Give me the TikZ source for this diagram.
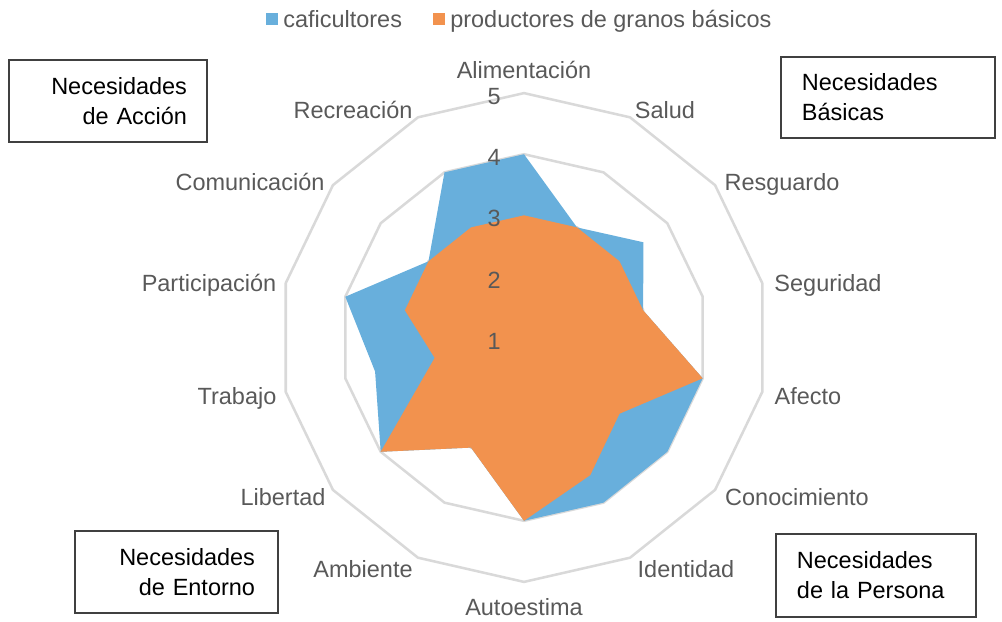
\documentclass[tikz,border=0pt]{standalone}
\usepackage{fontspec}
\setmainfont{Liberation Sans}
\usepackage{tikz}
\usetikzlibrary{positioning}
\definecolor{cafeazul}{HTML}{68AFDC}
\definecolor{granosnar}{HTML}{F2924E}
\definecolor{rejilla}{HTML}{D9D9D9}
\definecolor{gristxt}{HTML}{595959}
\newcommand{\txt}{\fontsize{16.7}{21.3}\selectfont}
\tikzstyle{malla} = [draw=rejilla, line width=1.8pt]
\tikzstyle{cat} = [text=gristxt, font=\txt, inner sep=0pt, anchor=base]
\tikzstyle{escala} = [text=gristxt, font=\txt, inner sep=0pt, anchor=east]
\tikzstyle{marca} = [rectangle, minimum size=0.3cm, inner sep=0pt]
\tikzstyle{grupo} = [rectangle, draw=black!75, line width=0.9pt, font=\txt,
   inner ysep=0pt]

\begin{document}
\begin{tikzpicture}[x=0.025cm, y=-0.025cm]
\useasboundingbox (0,0) rectangle (1002,621);

% leyenda
\node (lcafe) [marca, fill=cafeazul] at (272,18.5) {};
\node (tcafe) [cat, anchor=base west] at (283,27) {caficultores};
\node (lgranos) [marca, fill=granosnar] at (439,18.5) {};
\node (tgranos) [cat, anchor=base west] at (450,27) {productores de granos básicos};

% radar
\begin{scope}[shift={(524,337.5)}]
\foreach \lvl in {1,...,4}
  \draw [malla] (-90:{\lvl*61.1}) \foreach \k in {1,...,13} { -- ({-90+\k*360/14}:{\lvl*61.1}) } -- cycle;

\foreach \v [count=\k from 0] in {4,3,3.5,3,4,4,4,4,3,4,3.5,4,3,4}
  \coordinate (caf\k) at ({-90+\k*360/14}:{(\v-1)*61.1});
\foreach \v [count=\k from 0] in {3,3,3,3,4,3,3.5,4,3,4,2.5,3,3,3}
  \coordinate (gra\k) at ({-90+\k*360/14}:{(\v-1)*61.1});

\fill [cafeazul] (caf0) \foreach \k in {1,...,13} { -- (caf\k) } -- cycle;
\fill [granosnar] (gra0) \foreach \k in {1,...,13} { -- (gra\k) } -- cycle;

\foreach \t in {1,...,5}
  \node (eje\t) [escala] at (-23,{-(\t-1)*61.1+3.5}) {\t};
\end{scope}

% categorias
\node (alim) [cat] at (524,78) {Alimentación};
\node (salud) [cat] at (665,118) {Salud};
\node (resg) [cat] at (782,190) {Resguardo};
\node (segur) [cat] at (828,291) {Seguridad};
\node (afecto) [cat] at (808,404) {Afecto};
\node (conoc) [cat] at (797,505) {Conocimiento};
\node (ident) [cat] at (686,577) {Identidad};
\node (autoe) [cat] at (524,615) {Autoestima};
\node (ambi) [cat] at (363,577) {Ambiente};
\node (libert) [cat] at (283,505) {Libertad};
\node (trabajo) [cat] at (237,404) {Trabajo};
\node (partic) [cat] at (209,291) {Participación};
\node (comun) [cat] at (250,190) {Comunicación};
\node (recre) [cat] at (353,118) {Recreación};

% grupos de necesidades
\node (accion) [grupo, inner xsep=0.5cm, text width=3.95cm, minimum height=2.05cm,
   align=right] at (108,101) {Necesidades\\de Acción};
\node (basicas) [grupo, inner xsep=0.525cm, text width=4.3cm, minimum height=2.025cm,
   align=left] at (888,97.5) {Necesidades\\Básicas};
\node (entorno) [grupo, inner xsep=0.575cm, text width=3.925cm, minimum height=2.05cm,
   align=right] at (176.5,572) {Necesidades\\de Entorno};
\node (persona) [grupo, inner xsep=0.525cm, text width=3.95cm, minimum height=2.075cm,
   align=left] at (876,575.5) {Necesidades\\de la Persona};

\end{tikzpicture}
\end{document}
